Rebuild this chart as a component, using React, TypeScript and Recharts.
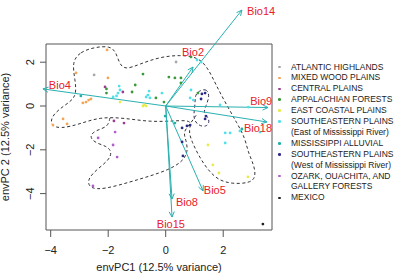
import { ComposedChart, Scatter, Line, XAxis, YAxis, ReferenceArea, ReferenceLine, ReferenceDot, Label } from 'recharts'

const FONT = '"Liberation Sans", Arial, Helvetica, sans-serif'

const xTicks = [-4, -2, 0, 2]
const yTicks = [-4, -2, 0, 2]

// site scores on envPC1 / envPC2, one list per ecoregion
const atlanticHighlands = [[-2.49, 1.42], [0.36, 2.01]]
const mixedWoodPlains = [[-2.04, 2.56], [-3.12, 1.51], [-2.01, 1.28], [-2.88, 0.14], [-2.77, 0.18], [-2.68, 0.27], [-2.6, 0.32], [-3.92, -0.87], [-3.57, -0.59], [-3.43, -0.82]]
const centralPlains = [[-2.11, 0.87], [-1.49, 0.64], [-1.8, -0.68], [-1.45, -0.78]]
const appalachianForests = [[-0.79, 1.46], [-1.06, 0.96], [-1.17, 0.64], [-2.06, 0.78], [-2.06, 0.59], [0.88, 2.24], [0.11, 1.32], [0.32, 1.28], [0.53, 1.28], [0.53, 1.05], [-0.34, 0.37], [-0.06, 0.18], [1.12, 0.59]]
const eastCoastalPlains = [[-1.59, 0.18], [-0.75, 0.05], [-0.68, 0.0], [-0.79, 0.0], [1.47, -1.78], [1.64, -2.69], [1.85, -3.06], [2.86, -3.24]]
const sePlainsEast = [[-1.62, 0.91], [-1.59, 0.73], [-1.66, 0.59], [-1.71, 0.46], [-1.83, 0.41], [-0.62, 0.5], [-0.58, 0.68], [-0.68, 0.41], [-0.55, 0.37], [1.09, 2.1], [1.23, 2.0], [0.88, 0.73], [0.85, 0.37], [0.96, 0.27], [1.89, 0.05], [-0.13, 0.59], [2.87, -0.05], [2.07, -1.23], [2.24, -1.23], [2.58, -1.14], [2.07, -1.69], [3.28, -1.19]]
const mississippiAlluvial = [[-2.95, 0.46], [-0.02, -0.46], [0.32, -0.78], [2.65, -1.05]]
const sePlainsWest = [[1.26, 0.55], [1.37, 0.59], [1.23, 0.32], [0.85, -0.87], [0.74, -0.91], [0.57, -1.0], [1.37, -0.59], [0.57, -1.64], [0.6, -2.28], [1.4, -0.46]]
const ozarkForests = [[-2.35, -1.46], [-1.76, -1.19], [-1.83, -1.78], [-1.69, -2.33], [-2.53, -3.65]]
const mexico = [[3.38, -5.39]]

const regionSites = [atlanticHighlands, mixedWoodPlains, centralPlains, appalachianForests, eastCoastalPlains, sePlainsEast, mississippiAlluvial, sePlainsWest, ozarkForests, mexico]
const regionColors = ['#a8a8a8', '#f2a552', '#9b3d8f', '#3a9a3a', '#eaea4c', '#52e0e8', '#1fb2a6', '#2c2c88', '#b060c8', '#222222']
const legendLines = [
  ['ATLANTIC HIGHLANDS'],
  ['MIXED WOOD PLAINS'],
  ['CENTRAL PLAINS'],
  ['APPALACHIAN FORESTS'],
  ['EAST COASTAL PLAINS'],
  ['SOUTHEASTERN PLAINS', '(East of Mississippi River)'],
  ['MISSISSIPPI ALLUVIAL'],
  ['SOUTHEASTERN PLAINS', '(West of Mississippi River)'],
  ['OZARK, OUACHITA, AND', 'GALLERY FORESTS'],
  ['MEXICO'],
]

// fitted bioclim vectors
const bioNames = ['Bio14', 'Bio2', 'Bio9', 'Bio18', 'Bio5', 'Bio8', 'Bio15', 'Bio4']
const bioX = [2.65, 0.95, 3.56, 3.52, 1.3, 0.22, 0.22, -4.27]
const bioY = [4.38, 1.78, -0.07, -0.73, -3.88, -4.25, -5.07, 0.78]
const bioLabelX = [3.32, 0.95, 3.32, 3.21, 1.71, 0.74, 0.18, -3.68]
const bioLabelY = [4.34, 2.47, 0.23, -1.0, -3.84, -4.38, -5.39, 0.96]

// density outlines
const outerHull = [[-3.26, 2.01], [-2.98, 2.47], [-2.46, 2.69], [-1.94, 2.74], [-1.73, 2.47], [-1.62, 1.96], [-1.42, 1.64], [-0.89, 1.92], [-0.2, 2.24], [0.5, 2.33], [1.12, 2.24], [1.47, 1.74], [1.75, 0.96], [2.1, 0.09], [2.48, -0.78], [2.76, -1.46], [2.86, -2.1], [3.07, -2.69], [3.14, -3.24], [2.93, -3.52], [2.31, -3.56], [1.82, -3.38], [1.47, -2.92], [1.19, -2.37], [0.91, -1.64], [0.78, -1.1], [0.95, -0.64], [0.32, -0.68], [-0.55, -0.73], [-1.42, -0.55], [-2.29, -0.5], [-2.98, -0.82], [-3.68, -1.05], [-4.02, -0.87], [-3.95, -0.41], [-3.5, 0.05], [-3.09, 0.41], [-3.15, 1.19]]
const lowerLobe = [[-1.94, -0.55], [-2.01, -0.96], [-2.42, -1.1], [-2.67, -1.37], [-2.46, -1.69], [-2.04, -1.83], [-1.87, -2.1], [-1.97, -2.47], [-2.42, -2.92], [-2.74, -3.38], [-2.63, -3.79], [-2.11, -3.79], [-1.24, -3.47], [-0.55, -3.2], [0.08, -2.92], [0.57, -2.56], [0.78, -2.1], [0.71, -1.55], [0.6, -1.19], [0.85, -0.82], [1.09, -0.37]]
const westHull = [[1.09, 0.64], [1.4, 0.82], [1.54, 0.5], [1.4, 0.0], [1.3, -0.32], [1.54, -0.59], [1.47, -0.96], [1.12, -0.91], [0.95, -0.55], [1.02, 0.0], [1.02, 0.41]]

const toPoints = (pairs: number[][]) => pairs.map(([x, y]) => ({ x, y }))

const ARROW = '#2ab0b0'
const BIO_RED = '#e8202a'

const Arrow = (props: any) => {
  const { x1, y1, x2, y2 } = props
  const a = Math.atan2(y2 - y1, x2 - x1)
  const len = 6
  const spread = Math.PI / 7
  const l = [x2 - len * Math.cos(a - spread), y2 - len * Math.sin(a - spread)]
  const r = [x2 - len * Math.cos(a + spread), y2 - len * Math.sin(a + spread)]
  return (
    <g stroke={ARROW} strokeWidth={1} fill="none">
      <line x1={x1} y1={y1} x2={x2} y2={y2} />
      <polyline points={`${l[0]},${l[1]} ${x2},${y2} ${r[0]},${r[1]}`} />
    </g>
  )
}

const XTick = ({ x, payload }: any) => (
  <text x={x} y={253.5} textAnchor="middle" fontSize={11} fill="#222" fontFamily={FONT}>
    {payload.value < 0 ? `\u2212${-payload.value}` : payload.value}
  </text>
)

const YTick = ({ y, payload }: any) => (
  <text x={34} y={y} transform={`rotate(-90, 34, ${y})`} textAnchor="middle" fontSize={11} fill="#222" fontFamily={FONT}>
    {payload.value < 0 ? `\u2212${-payload.value}` : payload.value}
  </text>
)

export default function App() {
  return (
    <div style={{ position: 'absolute', left: 0, top: 0, width: 400, height: 273, background: '#fff', fontFamily: FONT }}>
      <ComposedChart width={400} height={273} margin={{ top: 44, right: 128, bottom: 0, left: 0 }}>
        <XAxis
          type="number"
          dataKey="x"
          domain={[-4.163, 3.697]}
          ticks={xTicks}
          allowDataOverflow
          axisLine={false}
          tickSize={7}
          tickLine={{ stroke: '#555' }}
          tick={<XTick />}
          height={43}
        >
          <Label
            content={() => (
              <text x={159} y={271} textAnchor="middle" fontSize={11} fill="#222" fontFamily={FONT}>
                envPC1 (12.5% variance)
              </text>
            )}
          />
        </XAxis>
        <YAxis
          type="number"
          dataKey="y"
          domain={[-5.662, 2.831]}
          ticks={yTicks}
          allowDataOverflow
          axisLine={false}
          tickSize={6}
          tickLine={{ stroke: '#555' }}
          tick={<YTick />}
          width={46}
        >
          <Label
            content={() => (
              <text x={9} y={137} transform="rotate(-90, 9, 137)" textAnchor="middle" fontSize={11} fill="#222" fontFamily={FONT}>
                envPC 2 (12.5% variance)
              </text>
            )}
          />
        </YAxis>

        <ReferenceArea x1={-4.163} x2={3.697} y1={-5.662} y2={2.831} fill="none" fillOpacity={0} stroke="#555" strokeWidth={1} ifOverflow="visible" />

        {regionSites.map((sites, i) => (
          <Scatter
            key={`sites-${i}`}
            data={toPoints(sites)}
            isAnimationActive={false}
            shape={(p: any) => <circle cx={p.cx} cy={p.cy} r={1.4} fill={regionColors[i]} />}
          />
        ))}

        <Line data={toPoints(outerHull)} dataKey="y" type="basisClosed" stroke="#333" strokeWidth={1} strokeDasharray="3 2.5" dot={false} activeDot={false} isAnimationActive={false} />
        <Line data={toPoints(lowerLobe)} dataKey="y" type="basis" stroke="#333" strokeWidth={1} strokeDasharray="3 2.5" dot={false} activeDot={false} isAnimationActive={false} />
        <Line data={toPoints(westHull)} dataKey="y" type="basisClosed" stroke="#2e2e5a" strokeWidth={1} strokeDasharray="3 2.5" dot={false} activeDot={false} isAnimationActive={false} />

        {bioNames.map((name, i) => (
          <ReferenceLine
            key={name}
            segment={[{ x: 0, y: 0 }, { x: bioX[i], y: bioY[i] }]}
            ifOverflow="visible"
            shape={<Arrow />}
          />
        ))}
        {bioNames.map((name, i) => (
          <ReferenceDot
            key={`lab-${name}`}
            x={bioLabelX[i]}
            y={bioLabelY[i]}
            r={0}
            ifOverflow="visible"
            shape={(p: any) => (
              <text x={p.cx} y={p.cy} textAnchor="middle" dominantBaseline="central" fontSize={11} fill={BIO_RED} fontFamily={FONT}>
                {name}
              </text>
            )}
          />
        ))}
      </ComposedChart>

      <div style={{ position: 'absolute', left: 276, top: 61.5, fontSize: 8.5, lineHeight: '10.9px', color: '#222' }}>
        {legendLines.map((lines, i) => (
          <div key={i} style={{ position: 'relative', paddingLeft: 15, whiteSpace: 'nowrap' }}>
            <span style={{ position: 'absolute', left: 2, top: 4.2, width: 2.6, height: 2.6, borderRadius: '50%', background: regionColors[i] }} />
            {lines.map(t => (
              <div key={t}>{t}</div>
            ))}
          </div>
        ))}
      </div>
    </div>
  )
}
